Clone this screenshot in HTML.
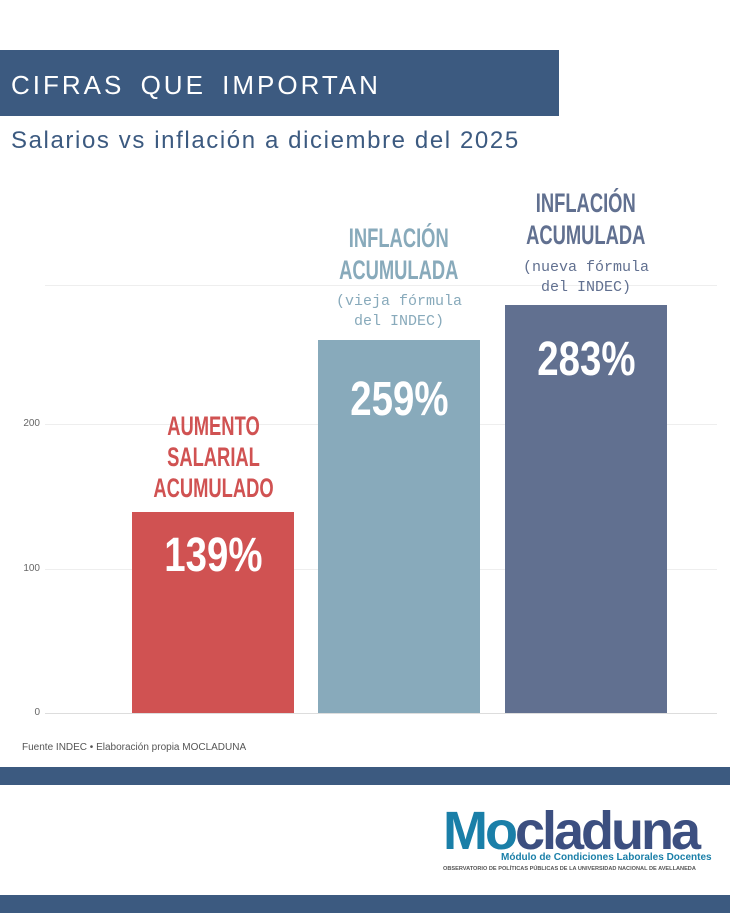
<!DOCTYPE html><html><head><meta charset="utf-8"><style>
body{margin:0;width:730px;height:913px;background:#fff;position:relative;overflow:hidden;font-family:"Liberation Sans",sans-serif}
.a{position:absolute}
.c{font-family:"Liberation Sans",sans-serif;font-weight:bold;text-align:center}
.c span{display:inline-block;transform:scaleX(0.68);transform-origin:center}
.n span{transform:scaleX(0.8)}
.g{position:absolute;left:45px;width:672px;height:1px;background:#eeeeee}
.t{position:absolute;left:0;width:40px;text-align:right;font-size:10px;color:#666}
</style></head><body>
<div class="a" style="left:0;top:50px;width:559px;height:66px;background:#3c5a80"></div>
<div class="a" style="left:11px;top:70px;color:#fff;font-size:26px;letter-spacing:3px;word-spacing:6px">CIFRAS QUE IMPORTAN</div>
<div class="a" style="left:11px;top:127px;color:#3c5a80;font-size:24px;letter-spacing:1.6px">Salarios vs inflación a diciembre del 2025</div>
<div class="g" style="top:285px"></div><div class="g" style="top:424px"></div><div class="g" style="top:569px"></div><div class="g" style="top:713px;background:#ddd"></div>
<div class="t" style="top:418px">200</div><div class="t" style="top:563px">100</div><div class="t" style="top:707px">0</div>
<div class="a" style="left:132px;top:512px;width:162px;height:201px;background:#d05252"></div>
<div class="a" style="left:318px;top:340px;width:162px;height:373px;background:#88aabb"></div>
<div class="a" style="left:505px;top:305px;width:162px;height:408px;background:#617090"></div>
<div class="a c n" style="left:132px;width:162px;top:528px;color:#fff;font-size:48px"><span>139%</span></div>
<div class="a c n" style="left:318px;width:162px;top:372px;color:#fff;font-size:48px"><span>259%</span></div>
<div class="a c n" style="left:505px;width:162px;top:332px;color:#fff;font-size:48px"><span>283%</span></div>
<div class="a c" style="left:112px;width:202px;top:411px;color:#d05252;font-size:27px;line-height:31px"><span>AUMENTO<br>SALARIAL<br>ACUMULADO</span></div>
<div class="a c" style="left:298px;width:202px;top:222px;color:#88aabb;font-size:27px;line-height:32px"><span>INFLACIÓN<br>ACUMULADA</span></div>
<div class="a" style="left:318px;width:162px;top:292px;color:#88aabb;font-size:15px;line-height:20px;text-align:center;font-family:'Liberation Mono',monospace">(vieja fórmula<br>del INDEC)</div>
<div class="a c" style="left:485px;width:202px;top:187px;color:#617090;font-size:27px;line-height:32px"><span>INFLACIÓN<br>ACUMULADA</span></div>
<div class="a" style="left:505px;width:162px;top:258px;color:#617090;font-size:15px;line-height:20px;text-align:center;font-family:'Liberation Mono',monospace">(nueva fórmula<br>del INDEC)</div>
<div class="a" style="left:22px;top:742px;font-size:10px;color:#555">Fuente INDEC • Elaboración propia MOCLADUNA</div>
<div class="a" style="left:0;top:767px;width:730px;height:18px;background:#3c5a80"></div>
<div class="a" style="left:443px;top:804px;font-size:54px;font-weight:bold;letter-spacing:-3px;line-height:54px"><span style="color:#1a7fa8">Mo</span><span style="color:#3c4f80">claduna</span></div>
<div class="a" style="left:501px;top:852px;font-size:10px;font-weight:bold;color:#1a7fa8">Módulo de Condiciones Laborales Docentes</div>
<div class="a" style="left:443px;top:866px;font-size:5.6px;font-weight:bold;color:#555;white-space:nowrap">OBSERVATORIO DE POLÍTICAS PÚBLICAS DE LA UNIVERSIDAD NACIONAL DE AVELLANEDA</div>
<div class="a" style="left:0;top:895px;width:730px;height:18px;background:#3c5a80"></div>
</body></html>
